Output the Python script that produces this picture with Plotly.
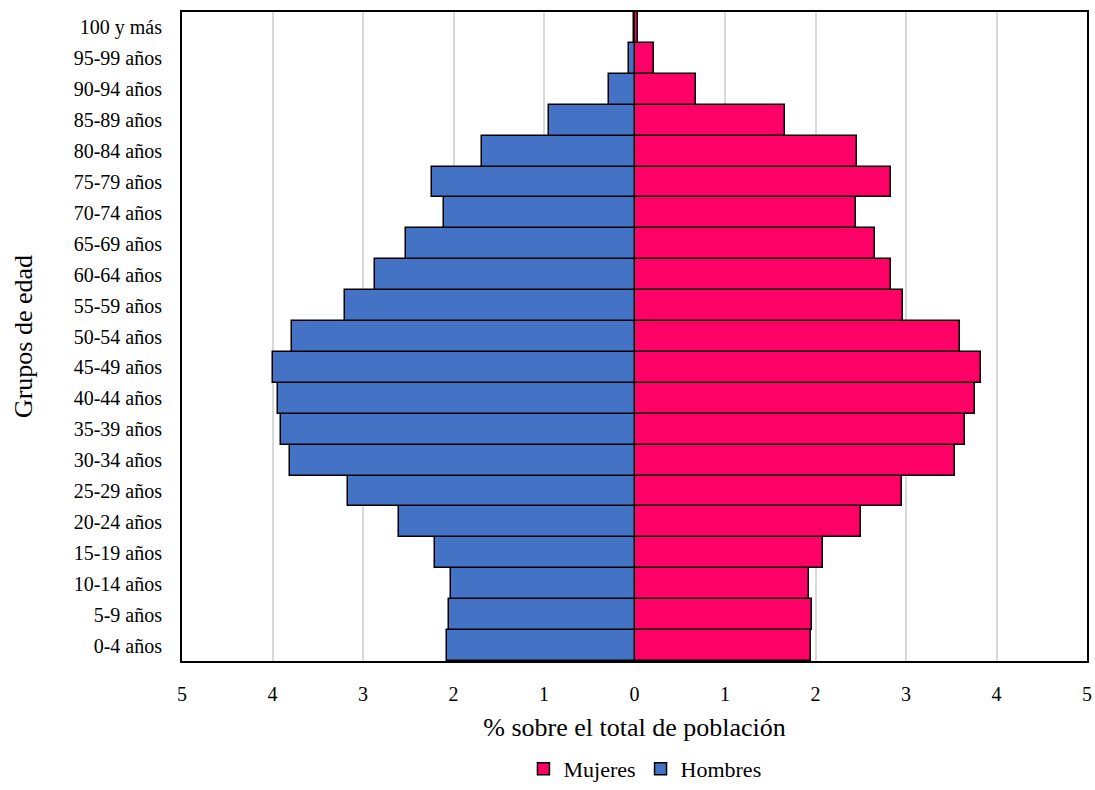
import plotly.graph_objects as go

grupos = ["0-4 años", "5-9 años", "10-14 años", "15-19 años", "20-24 años", "25-29 años",
          "30-34 años", "35-39 años", "40-44 años", "45-49 años", "50-54 años", "55-59 años",
          "60-64 años", "65-69 años", "70-74 años", "75-79 años", "80-84 años", "85-89 años",
          "90-94 años", "95-99 años", "100 y más"]
hombres = [2.07, 2.05, 2.03, 2.21, 2.60, 3.17, 3.81, 3.91, 3.94, 3.99, 3.79, 3.20,
           2.87, 2.52, 2.11, 2.24, 1.68, 0.95, 0.28, 0.06, 0.01]
mujeres = [1.95, 1.96, 1.93, 2.08, 2.50, 2.96, 3.54, 3.65, 3.76, 3.83, 3.60, 2.97,
           2.83, 2.66, 2.45, 2.83, 2.46, 1.66, 0.68, 0.21, 0.04]
tick_vals = [-5, -4, -3, -2, -1, 0, 1, 2, 3, 4, 5]
tick_text = ["5", "4", "3", "2", "1", "0", "1", "2", "3", "4", "5"]

font = "Liberation Serif"

fig = go.Figure()
fig.add_trace(go.Bar(
    y=grupos, x=mujeres, orientation="h", name="Mujeres",
    marker=dict(color="#FF0066", line=dict(color="black", width=1.5)),
))
fig.add_trace(go.Bar(
    y=grupos, x=[-v for v in hombres], orientation="h", name="Hombres",
    marker=dict(color="#4472C4", line=dict(color="black", width=1.5)),
))

fig.update_layout(
    width=1095, height=790,
    barmode="overlay", bargap=0,
    plot_bgcolor="white", paper_bgcolor="white",
    font=dict(family=font, size=20, color="black"),
    margin=dict(l=182, r=8, t=12, b=129),
    legend=dict(orientation="h", x=0.589, xanchor="center", xref="container",
                y=-0.019, yanchor="bottom", yref="container",
                font=dict(size=22), traceorder="normal", itemwidth=30,
                tracegroupgap=0),
    xaxis=dict(
        range=[-5, 5], tickvals=tick_vals, ticktext=tick_text,
        showgrid=True, gridcolor="#d9d9d9", gridwidth=1.5,
        zeroline=False, showline=True, linecolor="black", linewidth=2, mirror=True,
        ticks="", ticklabelstandoff=14, automargin=False,
        title=dict(text="% sobre el total de población", font=dict(size=26), standoff=14),
    ),
    yaxis=dict(
        showgrid=False, zeroline=False, showline=True, linecolor="black", linewidth=2,
        mirror=True, ticks="", ticklabelstandoff=14, automargin=False,
        title=dict(text="Grupos de edad", font=dict(size=26), standoff=34),
    ),
)

fig.write_html("out.html", config={"displayModeBar": False},
               post_script="document.body.style.margin='0';")
